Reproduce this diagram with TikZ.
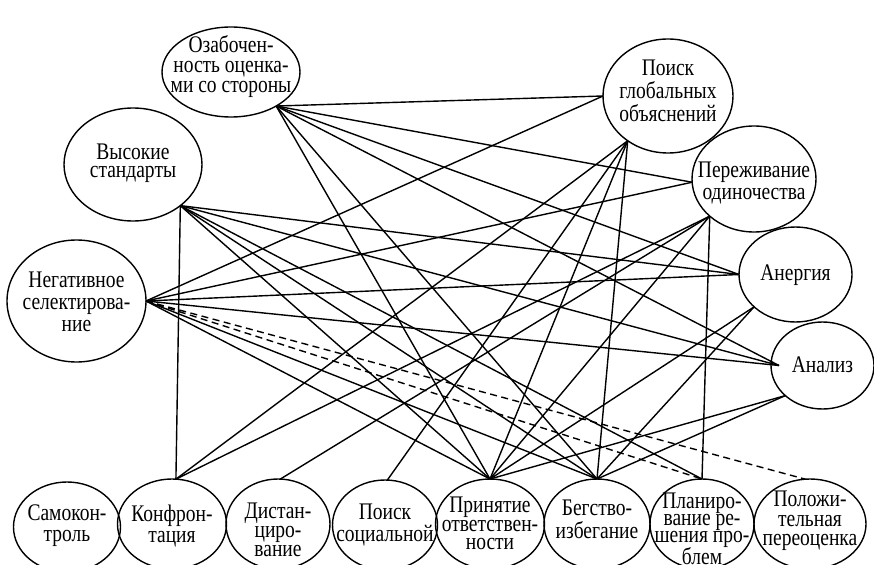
\documentclass[tikz,border=0pt]{standalone}
\usepackage{fontspec}
\setmainfont{Liberation Serif}
\usepackage{graphicx}
\usetikzlibrary{shapes.geometric}
\newcommand\vsc{1.22}
\newcommand\lbl[3]{\smash{\makebox[0pt]{\raisebox{#2}{\scalebox{1}[\vsc]{\fontsize{19.5}{#1}\selectfont\begin{tabular}{@{}c@{}}#3\end{tabular}}}}}}
\tikzset{
  ell/.style={draw, ellipse, line width=1.4pt, inner sep=0pt, outer sep=0pt},
  link/.style={line width=1.4pt},
  dlink/.style={line width=1.4pt, dash pattern=on 7pt off 4.5pt},
}
\begin{document}
\begin{tikzpicture}[x=1pt,y=-1pt]
\useasboundingbox[fill=white] (0,0) rectangle (874,564);
% top / side nodes
\node[ell, minimum width=138pt, minimum height=90pt]  (oz)  at (231,72)    {\lbl{16.4pt}{-1pt}{Озабочен-\\ность оценка-\\ми со стороны}};
\node[ell, minimum width=138pt, minimum height=113pt] (vs)  at (133,164.5) {\lbl{14.7pt}{-5.5pt}{Высокие\\стандарты}};
\node[ell, minimum width=139pt, minimum height=122pt] (ns)  at (76.5,301)  {\lbl{18.1pt}{-10pt}{Негативное\\селектирова-\\ние}};
\node[ell, minimum width=130pt, minimum height=114pt] (pg)  at (668,96)    {\lbl{16.4pt}{-4pt}{Поиск\\глобальных\\объяснений}};
\node[ell, minimum width=124pt, minimum height=106pt] (po)  at (754,179)   {\lbl{18.1pt}{-11pt}{Переживание\\одиночества}};
\node[ell, minimum width=113pt, minimum height=95pt]  (an)  at (795.5,274.5) {\lbl{18pt}{-7.5pt}{Анергия}};
\node[ell, minimum width=103pt, minimum height=87pt]  (anz) at (822.5,365.5) {\lbl{18pt}{-8.5pt}{Анализ}};
% bottom nodes
\node[ell, minimum width=107pt, minimum height=90pt] (sk) at (67,527)  {\lbl{17pt}{-5.5pt}{Самокон-\\троль}};
\node[ell, minimum width=109pt, minimum height=90pt] (kf) at (172,524) {\lbl{17pt}{-9pt}{Конфрон-\\тация}};
\node[ell, minimum width=104pt, minimum height=90pt] (ds) at (278,524) {\lbl{15.6pt}{-14.5pt}{Дистан-\\циро-\\вание}};
\node[ell, minimum width=105pt, minimum height=90pt] (ps) at (385,525) {\lbl{15.6pt}{-7pt}{Поиск\\социальной}};
\node[ell, minimum width=109pt, minimum height=90pt] (pr) at (490,524) {\lbl{15.1pt}{-8.5pt}{Принятие\\ответствен-\\ности}};
\node[ell, minimum width=106pt, minimum height=90pt] (bg) at (597,524) {\lbl{18.1pt}{-5pt}{Бегство-\\избегание}};
\node[ell, minimum width=104pt, minimum height=90pt] (pl) at (702,524) {\lbl{13.9pt}{-13.5pt}{Планиро-\\вание ре-\\шения про-\\блем}};
\node[ell, minimum width=112pt, minimum height=90pt] (pp) at (810,524) {\lbl{16pt}{-3.5pt}{Положи-\\тельная\\переоценка}};
% Ozabochennost
\draw[link] (oz.-37) -- (pg.180);
\draw[link] (oz.-37) -- (po.183);
\draw[link] (oz.-37) -- (an.180);
\draw[link] (oz.-37) -- ([xshift=8pt]anz.west);
\draw[link] (oz.-37) -- (bg.north);
\draw[link] (oz.-37) -- (pr.north);
% Vysokie standarty
\draw[link] (vs.-41) -- (kf.85);
\draw[link] (vs.-41) -- (an.180);
\draw[link] (vs.-41) -- ([xshift=8pt]anz.west);
\draw[link] (vs.-41) -- (pl.north);
\draw[link] (vs.-41) -- (bg.north);
\draw[link] (vs.-41) -- (pr.north);
% Negativnoe selektirovanie
\draw[link] (ns.0) -- (pg.180);
\draw[link] (ns.0) -- (po.183);
\draw[link] (ns.0) -- (an.180);
\draw[link] (ns.0) -- ([xshift=8pt]anz.west);
\draw[link] (ns.0) -- (bg.north);
\draw[link] (ns.0) -- (pr.north);
\draw[dlink] (ns.0) -- (pl.north);
\draw[dlink] (ns.0) -- (pp.96);
% Poisk globalnykh
\draw[link] (pg.228) -- (kf.85);
\draw[link] (pg.228) -- (ps.87);
\draw[link] (pg.228) -- (pr.north);
\draw[link] (pg.228) -- (bg.north);
% Perezhivanie odinochestva
\draw[link] (po.220) -- (kf.85);
\draw[link] (po.220) -- (ds.87);
\draw[link] (po.220) -- (pr.north);
\draw[link] (po.220) -- (pl.north);
% Anergiya
\draw[link] (an.218) -- (pr.north);
\draw[link] (an.218) -- (bg.north);
% Analiz
\draw[link] (anz.219) -- (pr.north);
\draw[link] (anz.219) -- (bg.north);
\end{tikzpicture}
\end{document}
